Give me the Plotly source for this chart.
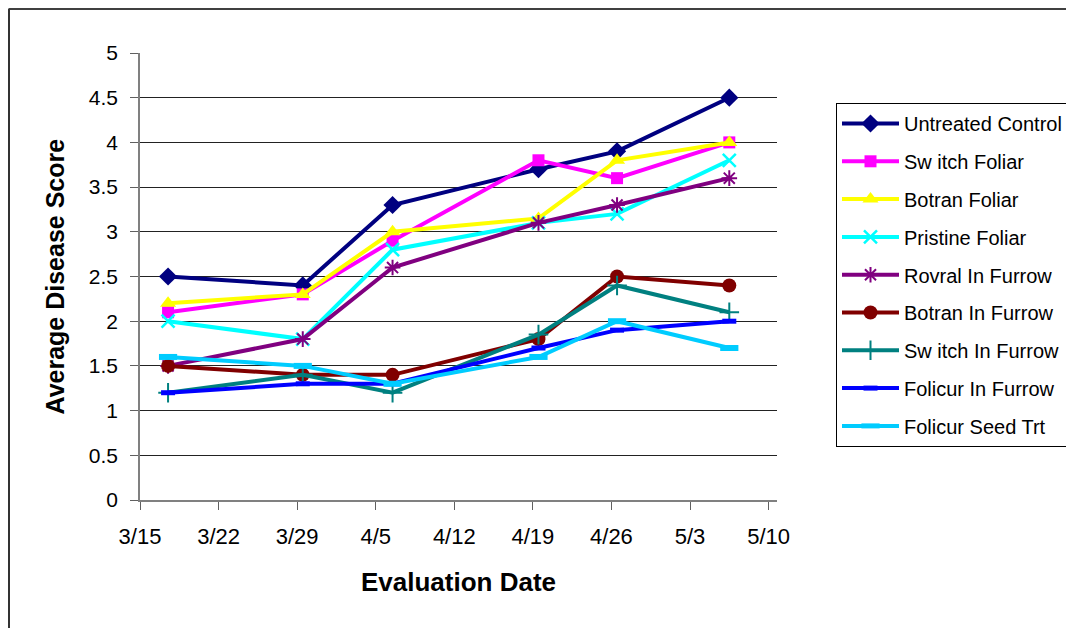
import pandas as pd
import plotly.graph_objects as go

# ---- data ----
eval_dates = ["2008-03-17", "2008-03-29", "2008-04-06", "2008-04-19", "2008-04-26", "2008-05-06"]

series_names = [
    "Untreated Control", "Sw itch Foliar", "Botran Foliar", "Pristine Foliar",
    "Rovral In Furrow", "Botran In Furrow", "Sw itch In Furrow",
    "Folicur In Furrow", "Folicur Seed Trt",
]
untreated_control = [2.5, 2.4, 3.3, 3.7, 3.9, 4.5]
switch_foliar = [2.1, 2.3, 2.9, 3.8, 3.6, 4.0]
botran_foliar = [2.2, 2.3, 3.0, 3.15, 3.8, 4.0]
pristine_foliar = [2.0, 1.8, 2.8, 3.1, 3.2, 3.8]
rovral_in_furrow = [1.5, 1.8, 2.6, 3.1, 3.3, 3.6]
botran_in_furrow = [1.5, 1.4, 1.4, 1.8, 2.5, 2.4]
switch_in_furrow = [1.2, 1.4, 1.2, 1.85, 2.4, 2.1]
folicur_in_furrow = [1.2, 1.3, 1.3, 1.7, 1.9, 2.0]
folicur_seed_trt = [1.6, 1.5, 1.3, 1.6, 2.0, 1.7]

y_tick_vals = [0, 0.5, 1, 1.5, 2, 2.5, 3, 3.5, 4, 4.5, 5]
y_tick_text = ["0", "0.5", "1", "1.5", "2", "2.5", "3", "3.5", "4", "4.5", "5"]
x_tick_start = "2008-03-15"

values = [untreated_control, switch_foliar, botran_foliar, pristine_foliar,
          rovral_in_furrow, botran_in_furrow, switch_in_furrow,
          folicur_in_furrow, folicur_seed_trt]

# ---- styles ----
styles = [
    dict(color="#000080", symbol="diamond", size=14, lw=0),
    dict(color="#FF00FF", symbol="square", size=12, lw=0),
    dict(color="#FFFF00", symbol="triangle-up", size=14, lw=0),
    dict(color="#00FFFF", symbol="x-thin-open", size=13, lw=2.5),
    dict(color="#800080", symbol="asterisk-open", size=13, lw=2),
    dict(color="#800000", symbol="circle", size=14, lw=0),
    dict(color="#008080", symbol="cross-thin-open", size=14, lw=2),
    dict(color="#0000FF", symbol="line-ew-open", size=10, lw=5),
    dict(color="#00CCFF", symbol="line-ew-open", size=13, lw=6),
]

# Excel date-axis: points sit in the middle of each day slot
x = pd.to_datetime(eval_dates) + pd.Timedelta(hours=12)

FONT = "Liberation Sans, Arial, sans-serif"

fig = go.Figure()
for i, (name, vals, st) in enumerate(zip(series_names, values, styles)):
    fig.add_trace(go.Scatter(
        x=x, y=vals, name=name, mode="lines+markers", legendgroup=f"g{i}",
        line=dict(color=st["color"], width=4),
        marker=dict(symbol=st["symbol"], size=st["size"], color=st["color"],
                    line=dict(color=st["color"], width=st["lw"])),
    ))

# page offset of the plot div (body margin)
OFF = 8
# the chart is larger than the window; the window crops it right and bottom
W, H = 1120, 640
# plot area in page pixels: x 140..777, y 53..500
L, R, T, B = 140 - OFF, 777 - OFF, 53 - OFF, 500 - OFF
pw, ph = R - L, B - T

def px(xpage):
    return (xpage - OFF - L) / pw

def py(ypage):
    return (B - (ypage - OFF)) / ph

fig.update_layout(
    width=W, height=H,
    margin=dict(l=L, r=W - R, t=T, b=H - B, pad=0, autoexpand=False),
    paper_bgcolor="white", plot_bgcolor="white",
    font=dict(family=FONT, size=20, color="black"),
    showlegend=True,
    legend=dict(
        x=px(836), y=py(103), xanchor="left", yanchor="top",
        bgcolor="white", bordercolor="#000000", borderwidth=1,
        font=dict(family=FONT, size=20, color="black"),
        tracegroupgap=8.8, itemwidth=57,
    ),
    xaxis=dict(
        type="date",
        range=["2008-03-15", "2008-05-10 18:00"],
        tick0=x_tick_start, dtick=7 * 24 * 3600 * 1000,
        tickformat="%-m/%-d",
        showgrid=False, zeroline=False,
        showline=True, linecolor="#808080", linewidth=1.5,
        ticks="outside", ticklen=8, tickcolor="#606060", tickwidth=1,
        ticklabelstandoff=8,
        tickfont=dict(family=FONT, size=22, color="black"),
    ),
    yaxis=dict(
        range=[0, 5],
        tickvals=y_tick_vals, ticktext=y_tick_text,
        showgrid=True, gridcolor="#222222", gridwidth=1,
        zeroline=False,
        showline=True, linecolor="#808080", linewidth=1.5,
        ticks="outside", ticklen=8, tickcolor="#606060", tickwidth=1,
        ticklabelstandoff=8,
        tickfont=dict(family=FONT, size=21, color="black"),
    ),
    annotations=[
        dict(text="<b>Evaluation Date</b>", xref="paper", yref="paper",
             x=0.5, y=py(582), xanchor="center", yanchor="middle",
             showarrow=False, font=dict(family=FONT, size=26, color="black")),
        dict(text="<b>Average Disease Score</b>", xref="paper", yref="paper",
             x=px(54), y=0.5, xanchor="center", yanchor="middle", textangle=-90,
             showarrow=False, font=dict(family=FONT, size=25, color="black")),
    ],
    shapes=[
        # chart area frame (continues past the cropped window edges)
        dict(type="line", xref="paper", yref="paper", x0=px(8.5), x1=px(1200),
             y0=py(9), y1=py(9), line=dict(color="black", width=1.5)),
        dict(type="line", xref="paper", yref="paper", x0=px(9), x1=px(9),
             y0=py(9), y1=py(700), line=dict(color="#333333", width=2)),
    ],
)

fig.write_html("out.html")
